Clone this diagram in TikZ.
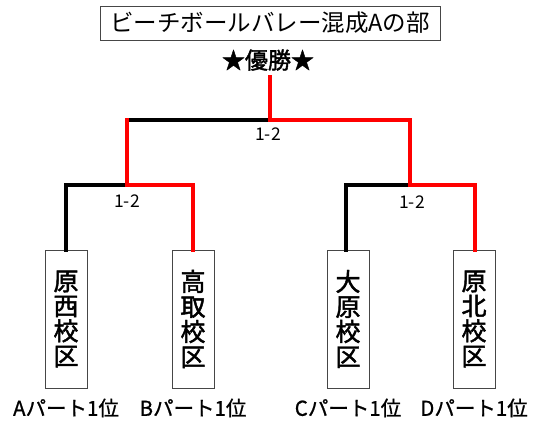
\documentclass[tikz,border=0pt]{standalone}
\usepackage{fontspec}
\setmainfont{Noto Sans CJK JP}
\newfontfamily\semib[FakeBold=1.8]{Noto Sans CJK JP}
\newfontfamily\medi[FakeBold=0.8]{Noto Sans CJK JP}
\definecolor{winred}{RGB}{255,0,0}
\definecolor{boxgray}{RGB}{70,70,70}
\begin{document}
\begin{tikzpicture}[x=1pt,y=-1pt,
  team/.style={draw=boxgray,line width=0.8pt,fill=white,minimum width=42pt,minimum height=138pt,inner sep=0pt,align=center,font=\semib\fontsize{25}{25}\selectfont},
  part/.style={font=\medi\fontsize{20.5}{21}\selectfont,inner sep=0pt},
  score/.style={font=\fontsize{17.5}{18}\selectfont,inner sep=0pt},
  winline/.style={draw=winred,line width=4pt,line join=miter,line cap=rect},
  loseline/.style={draw=black,line width=4pt,line join=miter,line cap=rect}]
\useasboundingbox (0,0) rectangle (540,431);
\node[draw=boxgray,line width=0.8pt,minimum width=340pt,minimum height=34pt,inner sep=0pt,font=\fontsize{23.5}{24}\selectfont] (title) at (270,23) {ビーチボールバレー混成Aの部};
\node[font=\semib\fontsize{23}{24}\selectfont,inner sep=0pt] (win) at (268,60) {★優勝★};
% junction coordinates
\coordinate (top) at (270,77);
\coordinate (jtop) at (270,120);
\coordinate (jL) at (127,120);
\coordinate (jR) at (410,120);
\coordinate (sL) at (127,185);
\coordinate (sR) at (410,185);
\coordinate (l1) at (66,185);
\coordinate (l2) at (193,185);
\coordinate (r1) at (346,185);
\coordinate (r2) at (475,185);
% team boxes
\node[team] (t1) at (66,319) {原\\西\\校\\区};
\node[team] (t2) at (193,319) {高\\取\\校\\区};
\node[team] (t3) at (348,319) {大\\原\\校\\区};
\node[team] (t4) at (474,319) {原\\北\\校\\区};
% bracket lines
\draw[loseline] (jL) -- (jtop);
\draw[winline] (top) -- (jtop) -- (jR) -- (sR);
\draw[winline] (jL) -- (sL);
\draw[loseline] (t1.north -| l1) -- (l1) -- (sL);
\draw[winline] (sL) -- (l2) -- (t2.north -| l2);
\draw[loseline] (t3.north -| r1) -- (r1) -- (sR);
\draw[winline] (sR) -- (r2) -- (t4.north -| r2);
% scores
\node[score] (s0) at (268,134) {1-2};
\node[score] (s1) at (127,201) {1-2};
\node[score] (s2) at (412,202) {1-2};
% part labels
\node[part] (p1) at (66,408) {Aパート1位};
\node[part] (p2) at (193,408) {Bパート1位};
\node[part] (p3) at (348,408) {Cパート1位};
\node[part] (p4) at (474,408) {Dパート1位};
\end{tikzpicture}
\end{document}
